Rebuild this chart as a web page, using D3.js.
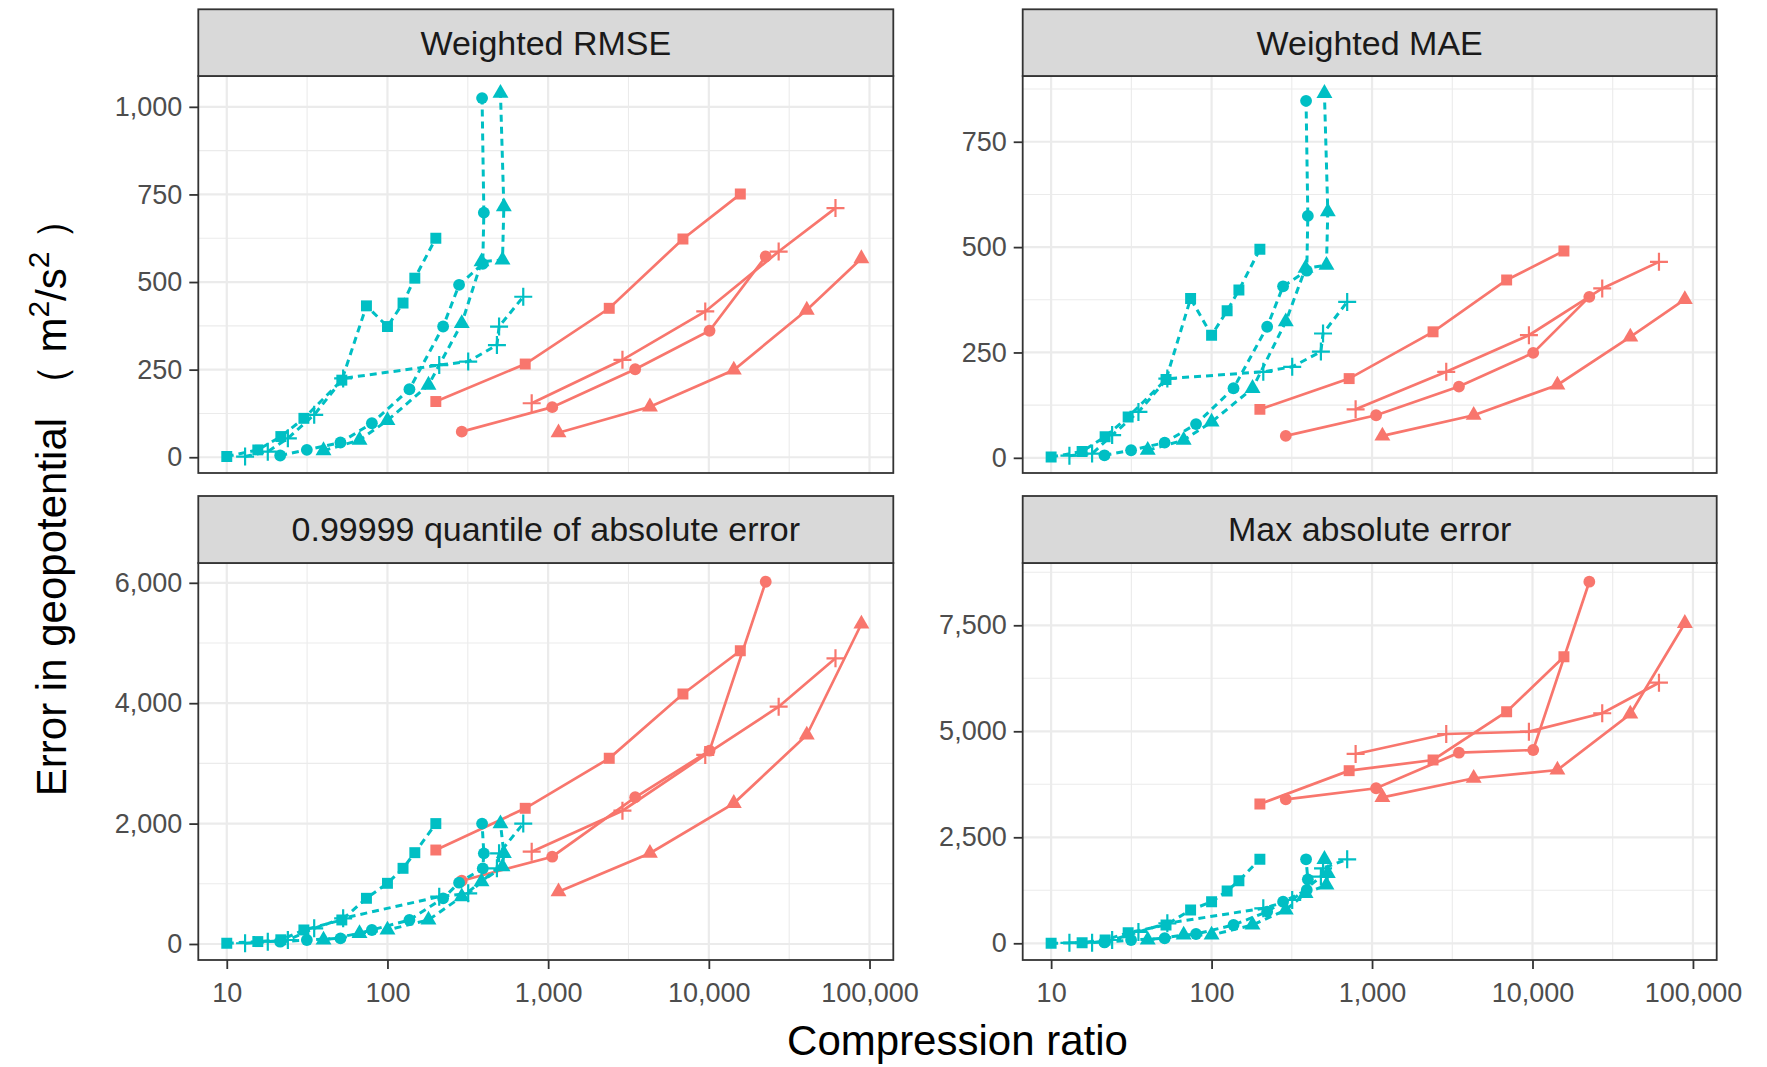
<!DOCTYPE html>
<html>
<head>
<meta charset="utf-8">
<script src="https://cdn.jsdelivr.net/npm/d3@7"></script>
<style>
  body { margin:0; background:#fff; }
  svg { display:block; }
  text { font-family:"Liberation Sans", Arial, sans-serif; }
</style>
</head>
<body>
<svg width="1767" height="1067"></svg>
<script>
// ------------------------------------------------------------
// Error vs compression ratio, 4 facets (ggplot theme_bw look)
// red = solid lines, cyan = dashed lines; shape = variant
// ------------------------------------------------------------

const C = {
  red:    "#F8766D",
  cyan:   "#00BFC4",
  border: "#333333",
  strip:  "#D9D9D9",
  grid:   "#EBEBEB",
  tick:   "#4D4D4D",
  ink:    "#1A1A1A"
};

// ---------- data ----------
const facetTitles = ["Weighted RMSE", "Weighted MAE", "0.99999 quantile of absolute error", "Max absolute error"];
const xTicks = [10, 100, 1000, 10000, 100000];
const xLimits = [6.65, 140600];

const yTicksRmse  = [0, 250, 500, 750, 1000];
const yTicksMae   = [0, 250, 500, 750];
const yTicksQuant = [0, 2000, 4000, 6000];
const yTicksMax   = [0, 2500, 5000, 7500];
const yLimitsRmse  = [-45, 1088];
const yLimitsMae   = [-36, 906];
const yLimitsQuant = [-266, 6329];
const yLimitsMax   = [-394, 8969];

// compression ratios of each series
const xRedSquare    = [200, 720, 2400, 6900, 15700];
const xRedCircle    = [290, 1060, 3480, 10100, 22600];
const xRedTriangle  = [1160, 4300, 14300, 40700, 89000];
const xRedPlus      = [790, 2900, 9500, 27200, 61400];
const xCyanSquare   = [10, 15.6, 21.7, 30.2, 52, 74, 100, 125, 148, 200];
const xCyanCircle   = [21.5, 31.5, 51, 80, 137, 222, 279, 392, 398, 388];
const xCyanTriangle = [40, 67, 100, 180, 290, 385, 520, 530, 505];
const xCyanPlus     = [13, 18, 24, 35, 53, 210, 318, 480, 495, 700];

// Weighted RMSE
const rmseRedSquare    = [159, 266, 425, 623, 751];
const rmseRedCircle    = [73, 143, 251, 361, 573];
const rmseRedTriangle  = [70, 144, 249, 420, 567];
const rmseRedPlus      = [154, 278, 416, 587, 711];
const rmseCyanSquare   = [2, 21, 59, 111, 220, 432, 373, 440, 511, 625];
const rmseCyanCircle   = [5, 21, 42, 97, 194, 373, 492, 552, 698, 1025];
const rmseCyanTriangle = [19, 49, 105, 206, 382, 558, 563, 715, 1039];
const rmseCyanPlus     = [2, 16, 54, 121, 225, 263, 273, 320, 373, 458];

// Weighted MAE
const maeRedSquare    = [115, 188, 299, 422, 491];
const maeRedCircle    = [52, 101, 169, 249, 382];
const maeRedTriangle  = [52, 101, 173, 287, 376];
const maeRedPlus      = [115, 204, 291, 402, 465];
const maeCyanSquare   = [2, 15, 50, 97, 186, 378, 291, 349, 398, 495];
const maeCyanCircle   = [6, 18, 36, 80, 165, 311, 407, 444, 574, 847];
const maeCyanTriangle = [18, 42, 85, 165, 323, 450, 457, 584, 865];
const maeCyanPlus     = [5, 10, 54, 109, 188, 204, 216, 252, 295, 370];

// 0.99999 quantile of absolute error
const quantRedSquare    = [1561, 2254, 3084, 4153, 4872];
const quantRedCircle    = [1050, 1450, 2437, 3211, 6018];
const quantRedTriangle  = [869, 1507, 2337, 3472, 5316];
const quantRedPlus      = [1533, 2214, 3140, 3942, 4746];
const quantCyanSquare   = [12, 40, 70, 233, 399, 759, 1008, 1257, 1517, 2000];
const quantCyanCircle   = [38, 66, 94, 233, 399, 759, 1018, 1257, 1506, 2000];
const quantCyanTriangle = [66, 177, 233, 399, 786, 1035, 1284, 1506, 2000];
const quantCyanPlus     = [12, 38, 66, 260, 427, 786, 841, 1257, 1506, 2000];

// Max absolute error
const maxRedSquare    = [3285, 4071, 4323, 5462, 6759];
const maxRedCircle    = [3396, 3656, 4495, 4559, 8528];
const maxRedTriangle  = [3443, 3892, 4087, 5408, 7547];
const maxRedPlus      = [4465, 4936, 4991, 5425, 6146];
const maxCyanSquare   = [0, 14, 78, 250, 432, 785, 981, 1233, 1476, 1981];
const maxCyanCircle   = [20, 78, 118, 219, 432, 746, 981, 1257, 1509, 1981];
const maxCyanTriangle = [78, 196, 196, 432, 785, 1179, 1375, 1651, 1981];
const maxCyanPlus     = [10, 14, 78, 267, 472, 825, 1021, 1572, 1769, 1981];

// series look (order = drawing order)
const seriesDefs = [
  { color:C.red,  dash:null,  shape:"square",   x:xRedSquare },
  { color:C.red,  dash:null,  shape:"circle",   x:xRedCircle },
  { color:C.red,  dash:null,  shape:"triangle", x:xRedTriangle },
  { color:C.red,  dash:null,  shape:"plus",     x:xRedPlus },
  { color:C.cyan, dash:"7,5", shape:"square",   x:xCyanSquare },
  { color:C.cyan, dash:"7,5", shape:"circle",   x:xCyanCircle },
  { color:C.cyan, dash:"7,5", shape:"triangle", x:xCyanTriangle },
  { color:C.cyan, dash:"7,5", shape:"plus",     x:xCyanPlus }
];

const panels = [
  { title:facetTitles[0], ticks:yTicksRmse,  limits:yLimitsRmse,
    ys:[rmseRedSquare, rmseRedCircle, rmseRedTriangle, rmseRedPlus, rmseCyanSquare, rmseCyanCircle, rmseCyanTriangle, rmseCyanPlus] },
  { title:facetTitles[1], ticks:yTicksMae,   limits:yLimitsMae,
    ys:[maeRedSquare, maeRedCircle, maeRedTriangle, maeRedPlus, maeCyanSquare, maeCyanCircle, maeCyanTriangle, maeCyanPlus] },
  { title:facetTitles[2], ticks:yTicksQuant, limits:yLimitsQuant,
    ys:[quantRedSquare, quantRedCircle, quantRedTriangle, quantRedPlus, quantCyanSquare, quantCyanCircle, quantCyanTriangle, quantCyanPlus] },
  { title:facetTitles[3], ticks:yTicksMax,   limits:yLimitsMax,
    ys:[maxRedSquare, maxRedCircle, maxRedTriangle, maxRedPlus, maxCyanSquare, maxCyanCircle, maxCyanTriangle, maxCyanPlus] }
];

// ---------- layout ----------
const cols = [{ x0:198.3, x1:893.3 }, { x0:1022.7, x1:1716.7 }];
const rows = [{ s0:9.3, y0:76, y1:473 }, { s0:496, y0:563, y1:960 }];
const TICK = 9, FS_TICK = 27, FS_STRIP = 34, FS_TITLE = 42;

const svg = d3.select("svg");
const fmt = d3.format(",");

const sym = {
  square:   d3.symbol().type(d3.symbolSquare).size(120)(),
  circle:   d3.symbol().type(d3.symbolCircle).size(110)(),
  triangle: d3.symbol().type(d3.symbolTriangle).size(110)()
};

function minorBreaks(major, lim){
  const step = major[1] - major[0];
  const ext = [major[0]-step, ...major, major[major.length-1]+step];
  const out = [];
  for(let k=0;k<ext.length-1;k++){ out.push((ext[k]+ext[k+1])/2); }
  return out.filter(v => v>=lim[0] && v<=lim[1]);
}

panels.forEach((p, i) => {
  const col = cols[i % 2], row = rows[Math.floor(i / 2)];
  const x = d3.scaleLog().domain(xLimits).range([col.x0, col.x1]);
  const y = d3.scaleLinear().domain(p.limits).range([row.y1, row.y0]);
  const g = svg.append("g");
  const w = col.x1 - col.x0, h = row.y1 - row.y0;

  // grid
  const grid = g.append("g");
  const xMinor = xTicks.map(t => t * Math.sqrt(10)).concat([xTicks[0] / Math.sqrt(10)])
    .filter(v => v >= xLimits[0] && v <= xLimits[1]);
  grid.selectAll(".xmin").data(xMinor).join("line")
    .attr("x1", d => x(d)).attr("x2", d => x(d)).attr("y1", row.y0).attr("y2", row.y1)
    .attr("stroke", C.grid).attr("stroke-width", 1.1);
  grid.selectAll(".ymin").data(minorBreaks(p.ticks, p.limits)).join("line")
    .attr("x1", col.x0).attr("x2", col.x1).attr("y1", d => y(d)).attr("y2", d => y(d))
    .attr("stroke", C.grid).attr("stroke-width", 1.1);
  grid.selectAll(".xmaj").data(xTicks).join("line")
    .attr("x1", d => x(d)).attr("x2", d => x(d)).attr("y1", row.y0).attr("y2", row.y1)
    .attr("stroke", C.grid).attr("stroke-width", 2.2);
  grid.selectAll(".ymaj").data(p.ticks).join("line")
    .attr("x1", col.x0).attr("x2", col.x1).attr("y1", d => y(d)).attr("y2", d => y(d))
    .attr("stroke", C.grid).attr("stroke-width", 2.2);

  // clip
  const cid = "clip" + i;
  svg.append("clipPath").attr("id", cid).append("rect")
    .attr("x", col.x0).attr("y", row.y0).attr("width", w).attr("height", h);
  const plot = g.append("g").attr("clip-path", `url(#${cid})`);

  const line = d3.line().x(d => x(d[0])).y(d => y(d[1]));
  const data = seriesDefs.map((s, k) => ({ ...s, pts: s.x.map((v, j) => [v, p.ys[k][j]]) }));

  // lines
  plot.selectAll(".ln").data(data).join("path")
    .attr("d", d => line(d.pts))
    .attr("fill", "none").attr("stroke", d => d.color)
    .attr("stroke-width", d => d.dash ? 3 : 2.7)
    .attr("stroke-dasharray", d => d.dash);

  // points
  data.forEach(s => {
    const pg = plot.append("g");
    if (s.shape === "plus") {
      pg.selectAll("path").data(s.pts).join("path")
        .attr("d", d => `M${x(d[0]) - 9},${y(d[1])}h18M${x(d[0])},${y(d[1]) - 9}v18`)
        .attr("stroke", s.color).attr("stroke-width", 2.2).attr("fill", "none");
    } else {
      pg.selectAll("path").data(s.pts).join("path")
        .attr("transform", d => `translate(${x(d[0])},${y(d[1])})`)
        .attr("d", sym[s.shape]).attr("fill", s.color);
    }
  });

  // border
  g.append("rect").attr("x", col.x0).attr("y", row.y0).attr("width", w).attr("height", h)
    .attr("fill", "none").attr("stroke", C.border).attr("stroke-width", 1.8);

  // strip
  g.append("rect").attr("x", col.x0).attr("y", row.s0).attr("width", w).attr("height", row.y0 - row.s0)
    .attr("fill", C.strip).attr("stroke", C.border).attr("stroke-width", 1.8);
  g.append("text").attr("x", (col.x0 + col.x1) / 2).attr("y", (row.s0 + row.y0) / 2)
    .attr("dy", "0.35em").attr("text-anchor", "middle")
    .attr("font-size", FS_STRIP).attr("fill", C.ink).text(p.title);

  // y axis
  const ya = g.append("g").attr("transform", `translate(${col.x0},0)`)
    .call(d3.axisLeft(y).tickValues(p.ticks).tickFormat(fmt).tickSize(TICK).tickPadding(7));
  ya.select(".domain").remove();
  ya.selectAll(".tick line").attr("stroke", C.border).attr("stroke-width", 1.8);
  ya.selectAll(".tick text").attr("font-size", FS_TICK).attr("fill", C.tick)
    .attr("font-family", "Liberation Sans, Arial, sans-serif");

  // x axis on bottom row only
  if (row === rows[1]) {
    const xa = g.append("g").attr("transform", `translate(0,${row.y1})`)
      .call(d3.axisBottom(x).tickValues(xTicks).tickFormat(fmt).tickSize(TICK).tickPadding(14));
    xa.select(".domain").remove();
    xa.selectAll(".tick line").attr("stroke", C.border).attr("stroke-width", 1.8);
    xa.selectAll(".tick text").attr("font-size", FS_TICK).attr("fill", C.tick)
      .attr("font-family", "Liberation Sans, Arial, sans-serif");
  }
});

// axis titles
svg.append("text").attr("x", (cols[0].x0 + cols[1].x1) / 2).attr("y", 1055)
  .attr("text-anchor", "middle").attr("font-size", FS_TITLE).attr("fill", "#000")
  .text("Compression ratio");

const yt = svg.append("text").attr("transform", "translate(66,497) rotate(-90)")
  .attr("text-anchor", "middle").attr("font-size", FS_TITLE).attr("fill", "#000");
yt.append("tspan").text("Error in geopotential （ m");
yt.append("tspan").attr("font-size", 30).attr("dy", -17).text("2");
yt.append("tspan").attr("dy", 17).text("/s");
yt.append("tspan").attr("font-size", 30).attr("dy", -17).text("2");
yt.append("tspan").attr("dy", 17).text(" ）");
</script>
</body>
</html>
